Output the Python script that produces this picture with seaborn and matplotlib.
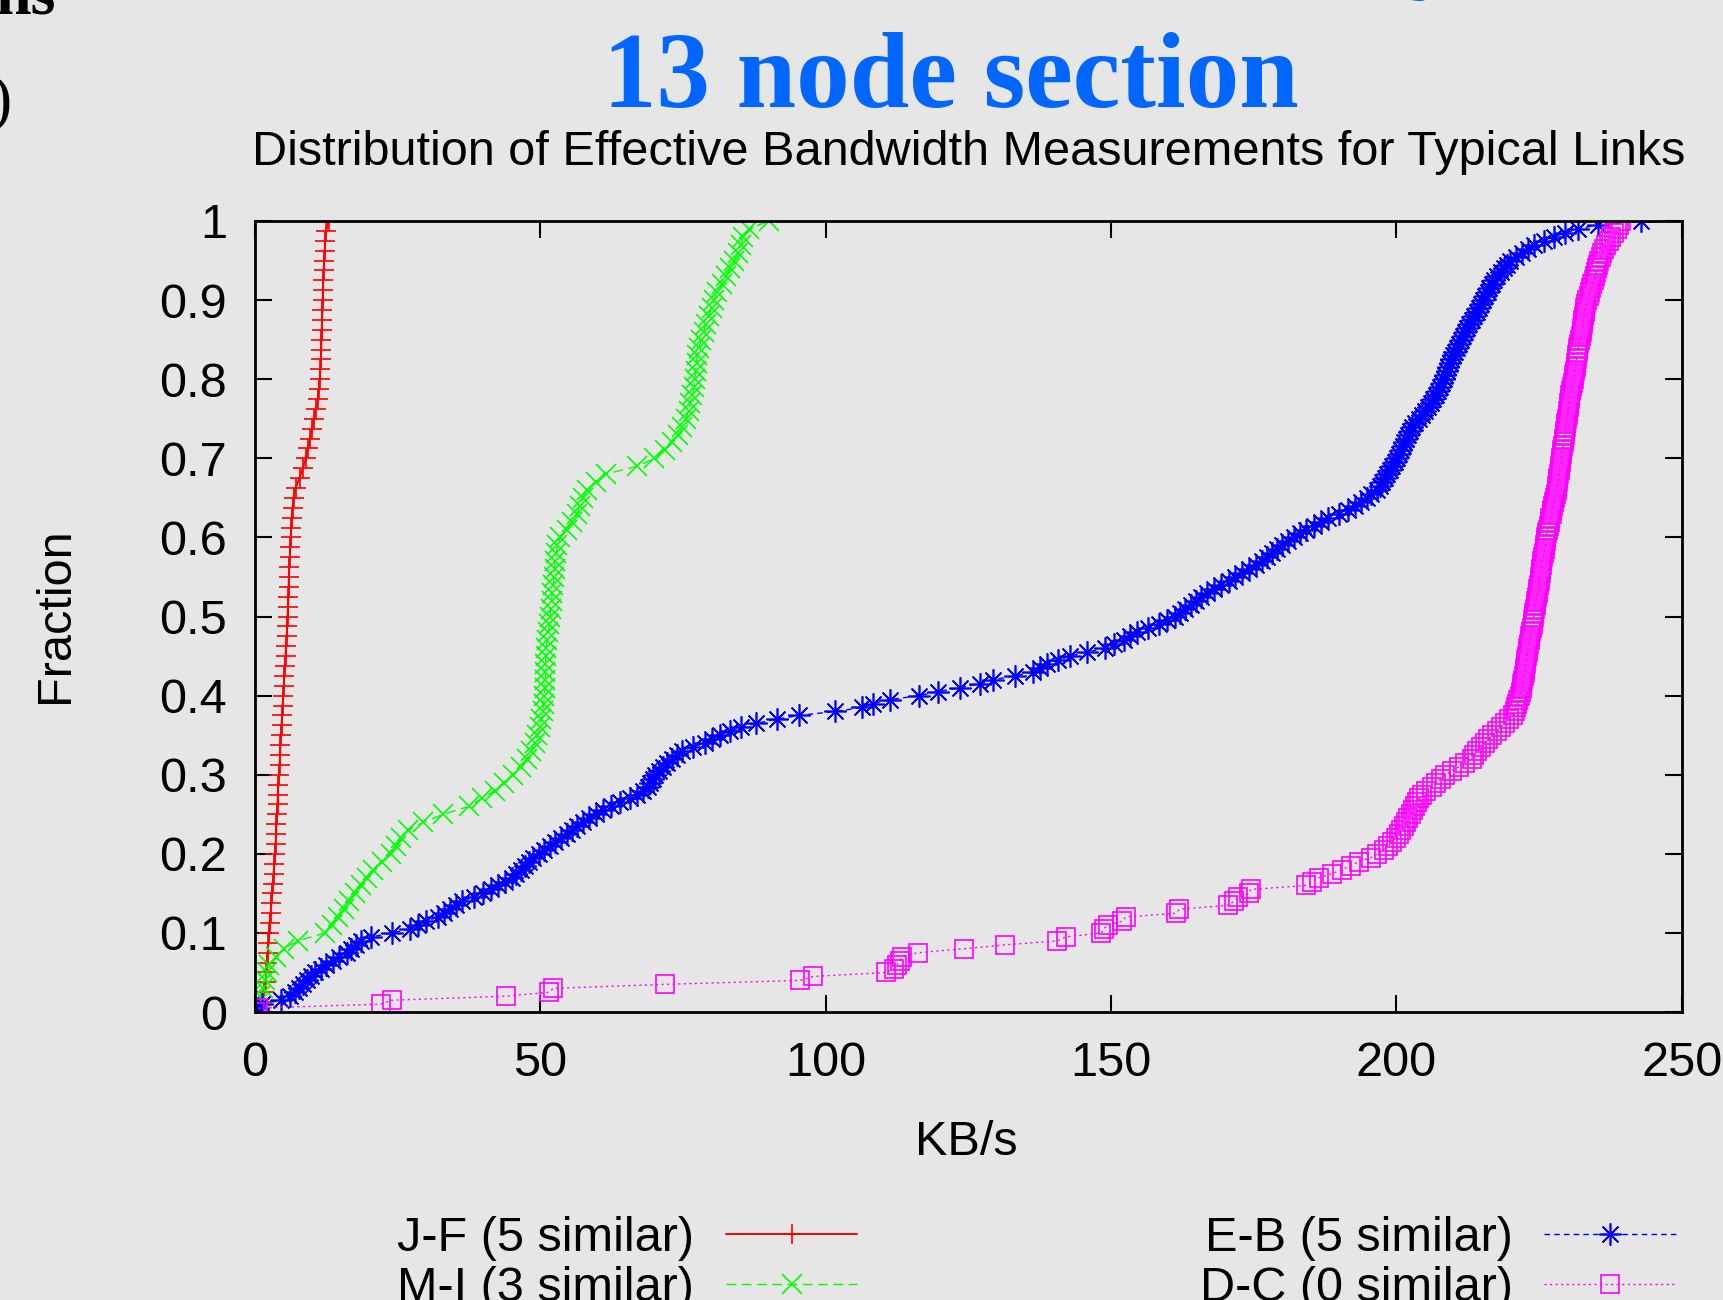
import numpy as np
import pandas as pd
import seaborn as sns
import matplotlib.pyplot as plt

# sorted bandwidth samples (KB/s) for each link
jf_kbs = [0.0, 1.0, 1.5, 1.85, 2.0, 2.1, 2.2, 2.35, 2.5, 2.6, 2.75, 2.85, 3.0, 3.1, 3.25, 3.4,
          3.5, 3.6, 3.7, 3.75, 3.85, 3.95, 4.0, 4.1, 4.2, 4.3, 4.4, 4.45, 4.55, 4.65, 4.75,
          4.85, 4.95, 5.05, 5.15, 5.25, 5.35, 5.45, 5.55, 5.65, 5.7, 5.8, 5.85, 5.9, 5.95,
          6.0, 6.1, 6.2, 6.25, 6.35, 6.45, 6.6, 6.8, 7.1, 7.8, 8.4, 8.9, 9.3, 9.7, 10.0,
          10.3, 10.7, 11.0, 11.2, 11.35, 11.45, 11.55, 11.6, 11.65, 11.7, 11.75, 11.8,
          11.85, 11.9, 11.95, 12.05, 12.1, 12.2, 12.3, 12.5, 12.9]

mi_kbs = [0.0, 0.4, 0.9, 1.35, 1.75, 2.1, 2.5, 3.6, 5.0, 7.5, 12.3, 13.5, 14.6, 15.6, 16.5,
          17.5, 18.6, 19.6, 20.6, 22.2, 23.8, 24.7, 25.6, 26.8, 29.5, 33.0, 37.5, 39.8,
          42.0, 43.7, 45.2, 46.6, 47.7, 48.4, 49.0, 49.5, 50.0, 50.2, 50.4, 50.6, 50.7,
          50.8, 50.8, 50.9, 50.9, 51.0, 51.0, 51.2, 51.4, 51.6, 51.7, 51.8, 52.0, 52.1,
          52.3, 52.4, 52.5, 52.6, 52.8, 53.0, 53.5, 54.6, 55.6, 56.4, 56.9, 57.4, 58.2,
          59.8, 61.5, 67.0, 70.0, 71.8, 73.1, 74.2, 74.9, 75.5, 76.0, 76.3, 76.6, 76.9,
          77.1, 77.2, 77.4, 77.5, 77.8, 78.2, 78.6, 79.0, 79.5, 80.0, 80.4, 81.0, 81.8,
          82.5, 83.3, 84.0, 84.6, 85.1, 85.6, 86.5, 90.1]

eb_kbs = [0.0, 0.6, 1.25, 4.5, 6.2, 7.0, 7.7, 8.4, 9.1, 9.8, 10.6, 11.5, 12.5, 13.6, 14.8,
          16.1, 16.9, 17.7, 18.5, 20.4, 24.0, 27.2, 28.6, 30.0, 32.1, 33.2, 34.2, 35.2,
          36.2, 38.3, 40.0, 41.3, 42.6, 43.8, 45.1, 45.8, 46.6, 47.3, 48.1, 48.8, 49.7,
          50.7, 51.7, 52.6, 53.6, 54.6, 55.5, 56.5, 57.4, 58.5, 59.7, 60.9, 62.3, 64.0,
          65.7, 67.0, 68.0, 68.8, 69.2, 69.7, 70.1, 70.8, 71.5, 72.2, 73.0, 73.9, 74.9,
          76.7, 78.8, 80.1, 81.4, 83.3, 85.2, 87.8, 91.4, 95.3, 101.7, 106.4, 108.3,
          111.3, 116.3, 119.6, 123.5, 127.0, 129.3, 133.1, 136.3, 137.5, 138.8, 140.8,
          142.8, 145.8, 148.9, 150.6, 152.2, 153.3, 154.5, 156.5, 158.5, 159.9, 161.2,
          162.1, 163.0, 164.0, 164.9, 165.8, 166.8, 168.0, 169.3, 170.6, 171.8, 173.0,
          174.2, 175.4, 176.4, 177.3, 178.2, 179.1, 180.0, 181.0, 182.0, 183.1, 184.2,
          185.5, 186.8, 188.1, 189.9, 191.6, 192.8, 193.8, 194.8, 195.6, 196.6, 197.1,
          197.5, 198.0, 198.4, 198.9, 199.3, 199.8, 200.2, 200.5, 200.8, 201.1, 201.4,
          201.7, 202.0, 202.4, 202.8, 203.3, 203.9, 204.5, 205.1, 205.6, 206.0, 206.5,
          206.9, 207.3, 207.7, 208.0, 208.3, 208.5, 208.8, 209.1, 209.4, 209.6, 209.9,
          210.2, 210.6, 211.0, 211.3, 211.7, 212.1, 212.4, 212.8, 213.2, 213.6, 214.1,
          214.5, 214.9, 215.2, 215.6, 216.0, 216.3, 216.7, 217.1, 217.7, 218.3, 218.8,
          219.4, 220.0, 221.0, 222.1, 223.1, 224.1, 225.9, 227.6, 229.6, 231.9, 235.3,
          242.8]

dc_kbs = [0.0, 0.5, 22.0, 24.0, 43.9, 51.5, 52.3, 71.8, 95.5, 97.8, 110.6, 112.0, 112.5,
          113.0, 113.4, 116.1, 124.2, 131.5, 140.6, 142.1, 148.3, 148.7, 149.5, 152.0,
          152.6, 161.4, 162.0, 170.5, 171.5, 172.3, 174.1, 174.5, 184.1, 185.2, 186.5,
          188.8, 190.5, 192.0, 193.4, 195.5, 196.7, 197.8, 198.5, 199.3, 199.9, 200.4,
          200.9, 201.3, 201.7, 202.1, 202.5, 202.9, 203.2, 203.6, 204.0, 204.5, 205.2,
          206.2, 207.0, 207.8, 208.6, 209.7, 211.0, 212.0, 213.2, 213.7, 214.2, 214.8,
          215.5, 216.1, 216.8, 217.6, 218.3, 219.0, 219.8, 220.4, 220.8, 221.0, 221.2,
          221.4, 221.6, 221.8, 222.0, 222.1, 222.2, 222.4, 222.5, 222.6, 222.7, 222.8,
          222.9, 223.0, 223.1, 223.2, 223.35, 223.5, 223.6, 223.75, 223.9, 224.0, 224.1,
          224.2, 224.3, 224.4, 224.5, 224.6, 224.75, 224.9, 225.0, 225.1, 225.2, 225.3,
          225.4, 225.5, 225.6, 225.75, 225.9, 226.0, 226.1, 226.2, 226.3, 226.4, 226.5,
          226.7, 226.85, 227.0, 227.2, 227.35, 227.5, 227.6, 227.8, 227.95, 228.1, 228.2,
          228.3, 228.4, 228.5, 228.6, 228.7, 228.8, 228.9, 229.0, 229.1, 229.2, 229.3,
          229.4, 229.5, 229.6, 229.7, 229.8, 229.9, 230.0, 230.1, 230.2, 230.3, 230.4,
          230.5, 230.6, 230.75, 230.9, 231.05, 231.2, 231.3, 231.4, 231.5, 231.6, 231.7,
          231.8, 231.9, 232.0, 232.2, 232.35, 232.5, 232.6, 232.7, 232.8, 232.9, 233.0,
          233.1, 233.3, 233.5, 233.7, 233.9, 234.1, 234.3, 234.6, 234.8, 235.0, 235.2,
          235.4, 235.6, 235.8, 236.1, 236.4, 236.8, 237.2, 237.7, 238.2, 238.7, 239.1,
          239.4]

series_labels = ["J-F (5 similar)", "M-I (3 similar)", "E-B (5 similar)", "D-C (0 similar)"]
x_ticks = [0, 50, 100, 150, 200, 250]
y_ticks = [0, 0.1, 0.2, 0.3, 0.4, 0.5, 0.6, 0.7, 0.8, 0.9, 1.0]
y_tick_labels = ["0", "0.1", "0.2", "0.3", "0.4", "0.5", "0.6", "0.7", "0.8", "0.9", "1"]

title = "13 node section"
subtitle = "Distribution of Effective Bandwidth Measurements for Typical Links"


def ecdf_frame(values):
    # empirical CDF: fraction of samples at or below each sorted value
    v = np.asarray(values, dtype=float)
    return pd.DataFrame({"KB/s": v, "Fraction": np.arange(len(v)) / (len(v) - 1)})


bg = "#e6e6e6"
sns.set_theme(style="ticks")
plt.rcParams["font.family"] = ["Liberation Sans", "DejaVu Sans"]
plt.rcParams["figure.facecolor"] = bg
plt.rcParams["axes.facecolor"] = bg
plt.rcParams["text.color"] = "black"
plt.rcParams["xtick.color"] = "black"
plt.rcParams["ytick.color"] = "black"

fs = 35

fig = plt.figure(figsize=(17.23, 13.0), dpi=100)
ax = fig.add_axes([0.148, 0.2215, 0.828, 0.6085])

styles = [
    dict(color="#ff0000", marker="+", linestyle="-", markersize=14, linewidth=1.4),
    dict(color="#00ff00", marker="x", linestyle=(0, (7, 4)), markersize=14, linewidth=1.0),
    dict(color="#0000ff", marker=(8, 2, 0), linestyle=(0, (4, 3)), markersize=16, linewidth=1.0),
    dict(color="#ff00ff", marker="s", linestyle=(0, (1.5, 2.5)), markersize=12.5, linewidth=1.0,
         markerfacecolor="none"),
]

for values, label, st in zip([jf_kbs, mi_kbs, eb_kbs, dc_kbs], series_labels, styles):
    sns.lineplot(data=ecdf_frame(values), x="KB/s", y="Fraction", estimator=None, sort=False,
                 ax=ax, label=label, markeredgewidth=1.2, markeredgecolor=st["color"], **st)

handles, labels = ax.get_legend_handles_labels()
if ax.get_legend() is not None:
    ax.get_legend().remove()

ax.set_xlim(0, 250)
ax.set_ylim(0, 1)
ax.set_xticks(x_ticks)
ax.set_xticklabels([str(t) for t in x_ticks])
ax.set_yticks(y_ticks)
ax.set_yticklabels(y_tick_labels)
ax.set_xlabel("")
ax.set_ylabel("")
ax.tick_params(direction="in", length=12, width=1.5, labelsize=fs, colors="black",
               top=True, right=True, pad=20)
ax.tick_params(axis="x", pad=21)
for sp in ax.spines.values():
    sp.set_visible(True)
    sp.set_color("black")
    sp.set_linewidth(2)

fig.text(0.561, 0.121, "KB/s", ha="center", va="center", fontsize=fs)
fig.text(0.032, 0.527, "Fraction", ha="center", va="center", rotation=90, fontsize=fs)

fig.text(0.552, 0.918, title, ha="center", va="baseline", fontsize=77, fontweight="bold",
         family=["Liberation Serif", "DejaVu Serif"], color="#0066ff")
fig.text(0.562, 0.873, subtitle, ha="center", va="baseline", fontsize=fs)

# fragments of neighbouring slide text cut by the crop
fig.text(0.032, 0.990, "ns", ha="right", va="baseline", fontsize=46, fontweight="bold",
         family=["Liberation Serif", "DejaVu Serif"], color="black")
fig.text(0.007, 0.9085, ")", ha="right", va="baseline", fontsize=46,
         family=["Liberation Serif", "DejaVu Serif"], color="black")
fig.text(0.833, 1.017, "y", ha="center", va="baseline", fontsize=77, fontweight="bold",
         family=["Liberation Serif", "DejaVu Serif"], color="#0066ff")

fig.legend(handles, labels, ncol=2, markerfirst=False, frameon=False, fontsize=fs,
           loc="upper left", bbox_to_anchor=(0.2165, 0.083), borderpad=0,
           handlelength=2.7, handletextpad=0.65, columnspacing=7.05, labelspacing=0.1)

fig.savefig("out.png", dpi=100, facecolor=bg)
